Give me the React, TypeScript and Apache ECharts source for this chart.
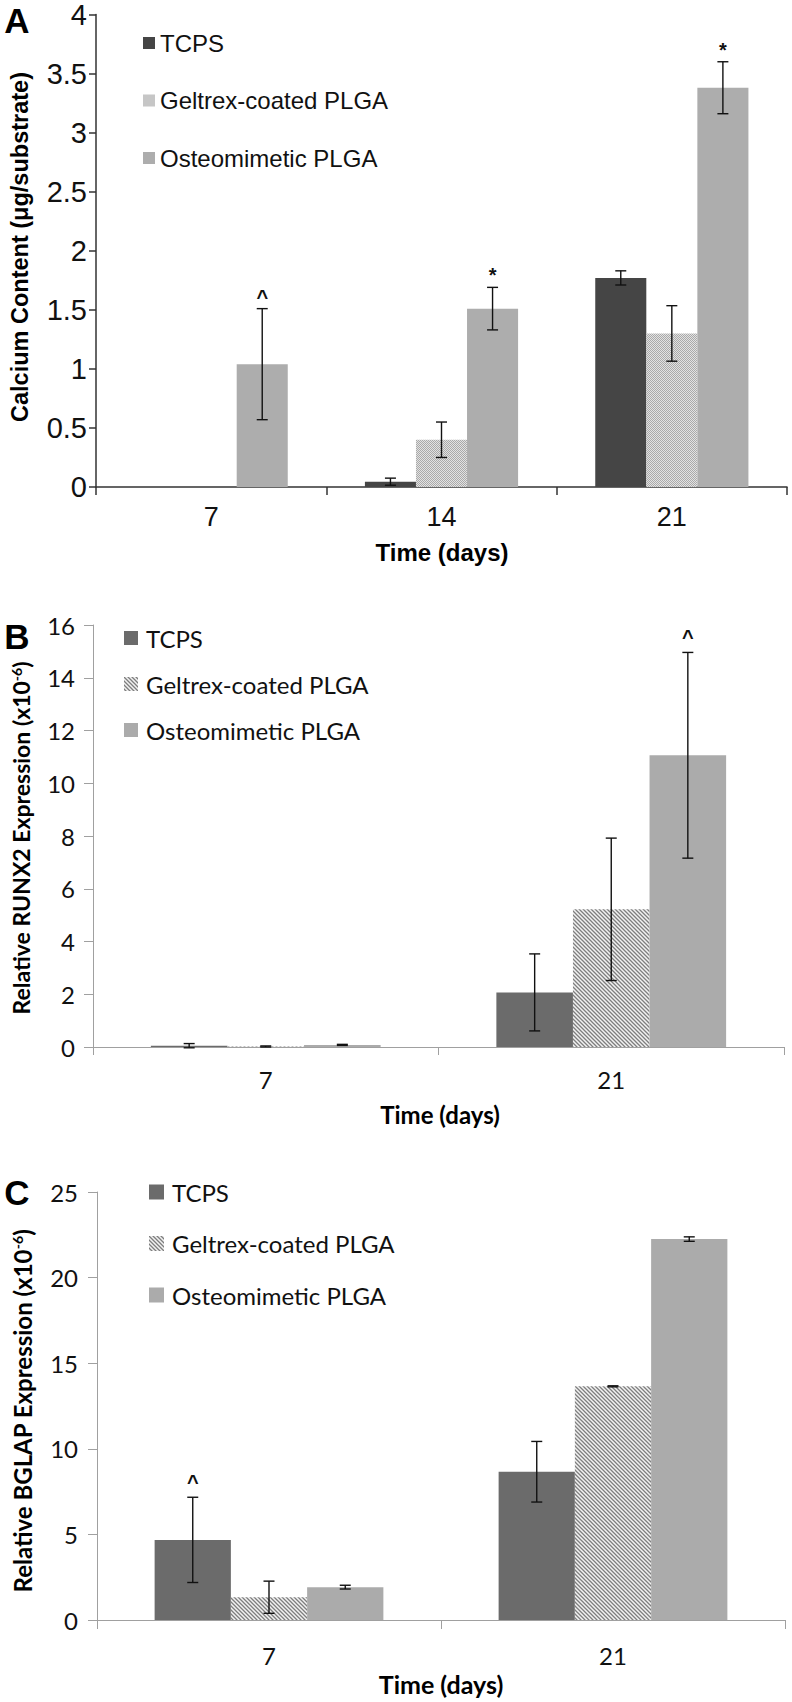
import React, { useEffect, useRef } from "react";
import * as echarts from "echarts";

const seriesNames = ["TCPS", "Geltrex-coated PLGA", "Osteomimetic PLGA"];

// ---------- Panel A : calcium content ----------
const daysA = ["7", "14", "21"];
const tcpsA = [0, 0.045, 1.77];
const tcpsErrA = [0, 0.03, 0.06];
const geltrexA = [0, 0.4, 1.3];
const geltrexErrA = [0, 0.15, 0.235];
const osteoA = [1.04, 1.51, 3.38];
const osteoErrA = [0.47, 0.18, 0.22];
const tcpsMarkA = ["", "", ""];
const geltrexMarkA = ["", "", ""];
const osteoMarkA = ["^", "*", "*"];

// ---------- Panel B : RUNX2 ----------
const daysB = ["7", "21"];
const tcpsB = [0.05, 2.07];
const tcpsErrB = [0.08, 1.46];
const geltrexB = [0.02, 5.22];
const geltrexErrB = [0.02, 2.7];
const osteoB = [0.08, 11.06];
const osteoErrB = [0.02, 3.9];
const tcpsMarkB = ["", ""];
const geltrexMarkB = ["", ""];
const osteoMarkB = ["", "^"];

// ---------- Panel C : BGLAP ----------
const daysC = ["7", "21"];
const tcpsC = [4.68, 8.66];
const tcpsErrC = [2.49, 1.77];
const geltrexC = [1.33, 13.65];
const geltrexErrC = [0.94, 0.03];
const osteoC = [1.92, 22.25];
const osteoErrC = [0.11, 0.13];
const tcpsMarkC = ["^", ""];
const geltrexMarkC = ["", ""];
const osteoMarkC = ["", ""];

const BAR_GAP = 0.335;

function makeCanvas(w: number, h: number, draw: (c: CanvasRenderingContext2D) => void) {
  const cv = document.createElement("canvas");
  cv.width = w;
  cv.height = h;
  const ctx = cv.getContext("2d")!;
  draw(ctx);
  return cv;
}

function dotPattern() {
  const cv = makeCanvas(2, 2, (c) => {
    c.fillStyle = "#e2e2e2";
    c.fillRect(0, 0, 2, 2);
    c.fillStyle = "#a9a9a9";
    c.fillRect(0, 0, 1, 1);
    c.fillRect(1, 1, 1, 1);
  });
  return { image: cv, repeat: "repeat" };
}

function hatchPattern() {
  const cv = makeCanvas(4, 4, (c) => {
    c.fillStyle = "#f2f2f2";
    c.fillRect(0, 0, 4, 4);
    c.strokeStyle = "#7e7e7e";
    c.lineWidth = 1.3;
    c.beginPath();
    c.moveTo(-1, -1);
    c.lineTo(5, 5);
    c.moveTo(-1, 3);
    c.lineTo(1, 5);
    c.moveTo(3, -1);
    c.lineTo(5, 1);
    c.stroke();
  });
  return { image: cv, repeat: "repeat" };
}

type PanelCfg = {
  days: string[];
  values: number[][];
  errs: number[][];
  marks: string[][];
  colors: any[];
  font: string;
  axisColor: string;
  axisWidth: number;
  grid: { left: number; right: number; top: number; height: number };
  yMax: number;
  yInterval: number;
  yLabelMargin: number;
  yTickLen: number;
  xLabelMargin: number;
  xTickLen: number;
  xTickFont: number;
  yTickFont: number;
  legend: { left: number; top: number; icon: number; gap: number; font: number; textPad: number };
  letter: { text: string; x: number; y: number };
  yTitle: { text: string; x: number; y: number; size: number };
  xTitle: { x: number; y: number; size: number };
  markFont: number;
  markGap: number;
};

function buildOption(cfg: PanelCfg) {
  const bars = seriesNames.map((name, g) => ({
    name,
    type: "bar",
    data: cfg.values[g],
    barGap: "0%",
    barCategoryGap: BAR_GAP * 100 + "%",
    itemStyle: { color: cfg.colors[g] },
    z: 2,
  }));
  const errRows: number[][] = [];
  for (let g = 0; g < 3; g++) {
    for (let i = 0; i < cfg.days.length; i++) {
      if (cfg.errs[g][i] > 0 || cfg.marks[g][i]) errRows.push([i, g, cfg.values[g][i], cfg.errs[g][i]]);
    }
  }
  const errSeries = {
    type: "custom",
    clip: false,
    z: 10,
    data: errRows,
    renderItem: (_p: any, api: any) => {
      const i = api.value(0);
      const g = api.value(1);
      const v = api.value(2);
      const e = api.value(3);
      const band = api.size([1, 0])[0];
      const bw = (band * (1 - BAR_GAP)) / 3;
      const cx = api.coord([i, 0])[0] + (g - 1) * bw;
      const yTop = api.coord([i, v + e])[1];
      const yBot = api.coord([i, v - e])[1];
      const st = { stroke: "#111", lineWidth: 1.4 };
      const half = 5.5;
      const children: any[] = [];
      if (e > 0) {
        children.push({ type: "line", shape: { x1: cx, y1: yTop, x2: cx, y2: yBot }, style: st });
        children.push({ type: "line", shape: { x1: cx - half, y1: yTop, x2: cx + half, y2: yTop }, style: st });
        children.push({ type: "line", shape: { x1: cx - half, y1: yBot, x2: cx + half, y2: yBot }, style: st });
      }
      const m = cfg.marks[g][i];
      if (m) {
        children.push({
          type: "text",
          x: cx,
          y: yTop - cfg.markGap,
          style: {
            text: m,
            fill: "#111",
            font: `bold ${cfg.markFont}px Arial, 'Liberation Sans', sans-serif`,
            align: "center",
            verticalAlign: "bottom",
          },
        });
      }
      return { type: "group", children };
    },
  };

  const axisLineStyle = { color: cfg.axisColor, width: cfg.axisWidth };
  return {
    animation: false,
    grid: { ...cfg.grid, containLabel: false },
    legend: {
      orient: "vertical",
      left: cfg.legend.left,
      top: cfg.legend.top,
      icon: "rect",
      itemWidth: cfg.legend.icon,
      itemHeight: cfg.legend.icon,
      itemGap: cfg.legend.gap,
      selectedMode: false,
      padding: 0,
      data: seriesNames,
      textStyle: {
        fontSize: cfg.legend.font,
        fontFamily: cfg.font,
        color: "#111",
        lineHeight: 24,
        padding: [0, 0, 0, cfg.legend.textPad],
      },
    },
    xAxis: {
      type: "category",
      data: cfg.days,
      axisLine: { lineStyle: axisLineStyle },
      axisTick: { show: true, length: cfg.xTickLen, lineStyle: axisLineStyle },
      axisLabel: { fontSize: cfg.xTickFont, fontFamily: cfg.font, color: "#111", margin: cfg.xLabelMargin },
      splitLine: { show: false },
    },
    yAxis: {
      type: "value",
      min: 0,
      max: cfg.yMax,
      interval: cfg.yInterval,
      axisLine: { show: true, lineStyle: axisLineStyle },
      axisTick: { show: true, length: cfg.yTickLen, lineStyle: axisLineStyle },
      axisLabel: { fontSize: cfg.yTickFont, fontFamily: cfg.font, color: "#111", margin: cfg.yLabelMargin },
      splitLine: { show: false },
    },
    graphic: [
      {
        type: "text",
        x: cfg.letter.x,
        y: cfg.letter.y,
        style: {
          text: cfg.letter.text,
          font: "bold 35px Arial, 'Liberation Sans', sans-serif",
          fill: "#000",
          align: "center",
          verticalAlign: "middle",
        },
      },
      {
        type: "text",
        x: cfg.yTitle.x,
        y: cfg.yTitle.y,
        rotation: Math.PI / 2,
        style: {
          text: cfg.yTitle.text,
          font: `bold ${cfg.yTitle.size}px ${cfg.font}`,
          fill: "#000",
          align: "center",
          verticalAlign: "middle",
          rich: {
            sup: {
              fontSize: Math.round(cfg.yTitle.size * 0.6),
              fontWeight: "bold",
              fontFamily: cfg.font,
              fill: "#000",
              verticalAlign: "top",
            },
          },
        },
      },
      {
        type: "text",
        x: cfg.xTitle.x,
        y: cfg.xTitle.y,
        style: {
          text: "Time (days)",
          font: `bold ${cfg.xTitle.size}px ${cfg.font}`,
          fill: "#000",
          align: "center",
          verticalAlign: "middle",
        },
      },
    ],
    series: [...bars, errSeries],
  };
}

function Panel({ top, height, make }: { top: number; height: number; make: () => any }) {
  const ref = useRef<HTMLDivElement>(null);
  useEffect(() => {
    if (!ref.current) return;
    const chart = echarts.init(ref.current, undefined, { renderer: "svg" });
    chart.setOption(make());
    return () => chart.dispose();
  }, []);
  return <div ref={ref} style={{ position: "absolute", left: 0, top, width: 792, height }} />;
}

const ARIAL = "Arial, 'Liberation Sans', sans-serif";
const CALIBRI = "Lato, 'Open Sans', sans-serif";

export default function App() {
  return (
    <div style={{ position: "absolute", left: 0, top: 0, width: 792, height: 1702, background: "#fff" }}>
      <Panel
        top={0}
        height={570}
        make={() =>
          buildOption({
            days: daysA,
            values: [tcpsA, geltrexA, osteoA],
            errs: [tcpsErrA, geltrexErrA, osteoErrA],
            marks: [tcpsMarkA, geltrexMarkA, osteoMarkA],
            colors: ["#454545", dotPattern(), "#adadad"],
            font: ARIAL,
            axisColor: "#333",
            axisWidth: 1.5,
            grid: { left: 96, right: 5, top: 12.5, height: 474.5 },
            yMax: 4,
            yInterval: 0.5,
            yLabelMargin: 9,
            yTickLen: 7,
            xLabelMargin: 16,
            xTickLen: 8,
            xTickFont: 27,
            yTickFont: 29,
            legend: { left: 143, top: 31, icon: 12, gap: 33.5, font: 24, textPad: 0 },
            letter: { text: "A", x: 17, y: 20 },
            yTitle: { text: "Calcium Content (μg/substrate)", x: 20, y: 247, size: 23.5 },
            xTitle: { x: 442, y: 552, size: 24 },
            markFont: 20,
            markGap: 2,
          })
        }
      />
      <Panel
        top={570}
        height={565}
        make={() =>
          buildOption({
            days: daysB,
            values: [tcpsB, geltrexB, osteoB],
            errs: [tcpsErrB, geltrexErrB, osteoErrB],
            marks: [tcpsMarkB, geltrexMarkB, osteoMarkB],
            colors: ["#6b6b6b", hatchPattern(), "#ababab"],
            font: CALIBRI,
            axisColor: "#a0a0a0",
            axisWidth: 1,
            grid: { left: 93, right: 8, top: 55, height: 422 },
            yMax: 16,
            yInterval: 2,
            yLabelMargin: 18,
            yTickLen: 9,
            xLabelMargin: 20,
            xTickLen: 8,
            xTickFont: 24,
            yTickFont: 24,
            legend: { left: 124, top: 56, icon: 14, gap: 22, font: 24, textPad: 3 },
            letter: { text: "B", x: 17, y: 66 },
            yTitle: { text: "Relative RUNX2 Expression (x10{sup|-6})", x: 21, y: 268, size: 23 },
            xTitle: { x: 440, y: 544, size: 24 },
            markFont: 20,
            markGap: 5,
          })
        }
      />
      <Panel
        top={1135}
        height={567}
        make={() =>
          buildOption({
            days: daysC,
            values: [tcpsC, geltrexC, osteoC],
            errs: [tcpsErrC, geltrexErrC, osteoErrC],
            marks: [tcpsMarkC, geltrexMarkC, osteoMarkC],
            colors: ["#6b6b6b", hatchPattern(), "#ababab"],
            font: CALIBRI,
            axisColor: "#a0a0a0",
            axisWidth: 1,
            grid: { left: 97, right: 7, top: 57, height: 428 },
            yMax: 25,
            yInterval: 5,
            yLabelMargin: 19,
            yTickLen: 9,
            xLabelMargin: 23,
            xTickLen: 9,
            xTickFont: 24,
            yTickFont: 24,
            legend: { left: 149, top: 45, icon: 15, gap: 27.5, font: 24, textPad: 3 },
            letter: { text: "C", x: 17, y: 57 },
            yTitle: { text: "Relative BGLAP Expression (x10{sup|-6})", x: 22, y: 276, size: 24 },
            xTitle: { x: 441, y: 549, size: 25 },
            markFont: 20,
            markGap: 5,
          })
        }
      />
    </div>
  );
}
